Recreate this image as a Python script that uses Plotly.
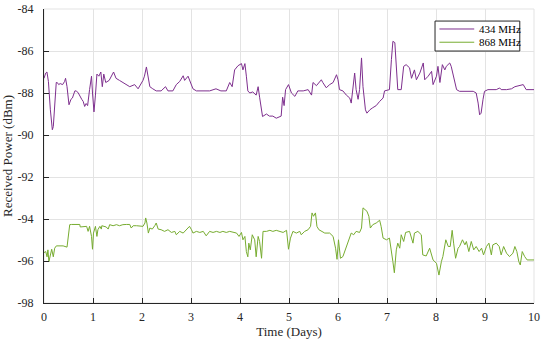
import plotly.graph_objects as go

# ---- data ----
days_434 = [0.00, 0.035, 0.06, 0.09, 0.13, 0.17, 0.19, 0.22, 0.25, 0.27, 0.30, 0.33, 0.38, 0.42, 0.44,
            0.47, 0.51, 0.55, 0.58, 0.63, 0.66, 0.70, 0.73, 0.77, 0.80, 0.83, 0.86, 0.89, 0.93, 0.97,
            0.99, 1.02, 1.05, 1.08, 1.12, 1.16, 1.19, 1.22, 1.26, 1.33, 1.42, 1.47, 1.54, 1.61, 1.68,
            1.75, 1.85, 1.92, 2.02, 2.05, 2.09, 2.12, 2.16, 2.22, 2.29, 2.39, 2.48, 2.53, 2.63, 2.70,
            2.77, 2.84, 2.87, 2.94, 3.01, 3.04, 3.11, 3.24, 3.38, 3.51, 3.61, 3.72, 3.79, 3.84, 3.89,
            3.96, 4.03, 4.06, 4.10, 4.13, 4.16, 4.20, 4.26, 4.33, 4.37, 4.40, 4.46, 4.54, 4.60, 4.67,
            4.74, 4.84, 4.87, 4.90, 4.93, 4.99, 5.05, 5.12, 5.18, 5.29, 5.39, 5.46, 5.49, 5.56, 5.66,
            5.69, 5.76, 5.83, 5.90, 5.97, 6.00, 6.03, 6.10, 6.17, 6.24, 6.27, 6.31, 6.34, 6.37, 6.41,
            6.44, 6.48, 6.51, 6.56, 6.59, 6.65, 6.71, 6.78, 6.85, 6.92, 6.95, 7.02, 7.05, 7.09, 7.12,
            7.16, 7.19, 7.22, 7.29, 7.34, 7.39, 7.46, 7.50, 7.56, 7.60, 7.67, 7.74, 7.77, 7.84, 7.91,
            7.94, 8.01, 8.04, 8.08, 8.13, 8.18, 8.21, 8.25, 8.28, 8.31, 8.38, 8.42, 8.48, 8.62, 8.76,
            8.82, 8.86, 8.89, 8.92, 8.96, 8.99, 9.06, 9.23, 9.30, 9.33, 9.44, 9.54, 9.61, 9.67, 9.74,
            9.78, 9.84, 10.0]
power_434 = [-87.3, -87.05, -87.0, -87.45, -88.8, -89.75, -89.6, -88.5, -87.5, -87.5, -87.6, -87.55, -87.6, -87.45, -87.3,
             -87.7, -88.56, -88.3, -88.24, -87.9, -87.9, -88.0, -88.16, -88.3, -88.4, -88.64, -88.5, -88.6, -87.84, -87.2,
             -88.0, -88.9, -88.1, -87.1, -87.2, -87.0, -87.7, -87.1, -87.5, -87.4, -87.0, -87.3, -87.4, -87.5, -87.6,
             -87.7, -87.6, -87.8, -87.4, -87.2, -86.76, -87.2, -87.7, -87.8, -87.9, -87.9, -87.7, -87.9, -87.9, -87.6,
             -87.45, -87.18, -87.4, -87.2, -87.7, -87.8, -87.9, -87.9, -87.9, -87.8, -87.9, -87.9, -87.5, -87.7, -86.9,
             -86.7, -86.6, -86.9, -86.6, -87.2, -87.9, -88.0, -87.95, -88.1, -87.7, -88.2, -89.12, -89.0, -89.1, -89.1,
             -89.2, -89.1, -88.2, -88.6, -87.84, -87.6, -88.0, -88.16, -87.9, -87.9, -87.84, -88.1, -87.5, -87.65, -87.37,
             -87.5, -87.75, -87.6, -87.5, -87.13, -87.37, -87.84, -87.9, -88.1, -88.24, -88.48, -87.5, -87.05, -87.84, -88.3,
             -87.84, -86.33, -87.7, -88.8, -88.96, -88.8, -88.7, -88.6, -88.4, -88.24, -87.9, -87.84, -87.84, -86.41, -85.54,
             -85.6, -86.9, -87.84, -87.84, -86.73, -86.65, -86.8, -87.3, -86.9, -87.37, -87.05, -86.57, -87.37, -87.2, -86.97,
             -87.6, -87.2, -86.73, -87.5, -86.65, -86.9, -86.73, -86.65, -86.57, -86.73, -87.37, -87.84, -87.92, -87.92, -87.92,
             -88.0, -88.48, -89.04, -88.96, -88.3, -87.92, -87.84, -87.84, -87.76, -87.84, -87.84, -87.8, -87.7, -87.67, -87.64,
             -87.6, -87.84, -87.84]

days_868 = [0.00, 0.035, 0.062, 0.08, 0.10, 0.13, 0.157, 0.19, 0.218, 0.252, 0.32, 0.39, 0.47, 0.525, 0.56,
            0.66, 0.73, 0.74, 0.80, 0.87, 0.90, 0.93, 0.97, 0.99, 1.01, 1.05, 1.08, 1.10, 1.14, 1.17,
            1.18, 1.27, 1.31, 1.34, 1.41, 1.48, 1.54, 1.61, 1.68, 1.75, 1.78, 1.82, 1.89, 1.95, 2.02,
            2.06, 2.075, 2.10, 2.13, 2.16, 2.21, 2.26, 2.29, 2.33, 2.39, 2.46, 2.53, 2.60, 2.67, 2.70,
            2.77, 2.84, 2.91, 2.97, 3.01, 3.04, 3.11, 3.18, 3.25, 3.31, 3.38, 3.45, 3.52, 3.59, 3.65,
            3.72, 3.79, 3.86, 3.93, 3.98, 4.03, 4.06, 4.10, 4.13, 4.16, 4.18, 4.21, 4.25, 4.30, 4.33,
            4.37, 4.40, 4.44, 4.47, 4.54, 4.61, 4.67, 4.74, 4.81, 4.88, 4.95, 4.99, 5.03, 5.08, 5.15,
            5.22, 5.25, 5.32, 5.39, 5.44, 5.47, 5.50, 5.54, 5.57, 5.61, 5.66, 5.73, 5.83, 5.90, 5.95,
            5.98, 6.01, 6.05, 6.10, 6.17, 6.24, 6.27, 6.32, 6.37, 6.44, 6.48, 6.51, 6.54, 6.59, 6.63,
            6.66, 6.71, 6.78, 6.85, 6.88, 6.92, 6.99, 7.05, 7.09, 7.12, 7.15, 7.19, 7.22, 7.26, 7.29,
            7.34, 7.38, 7.46, 7.53, 7.56, 7.63, 7.70, 7.73, 7.80, 7.87, 7.94, 8.01, 8.06, 8.11, 8.14,
            8.20, 8.25, 8.29, 8.33, 8.36, 8.40, 8.45, 8.48, 8.54, 8.59, 8.62, 8.67, 8.72, 8.77, 8.82,
            8.88, 8.93, 8.97, 9.03, 9.08, 9.13, 9.16, 9.23, 9.29, 9.33, 9.38, 9.44, 9.50, 9.57, 9.61,
            9.65, 9.69, 9.72, 9.76, 9.81, 9.86, 10.0]
power_868 = [-95.6, -95.55, -95.8, -95.47, -96.03, -95.63, -95.44, -95.8, -95.39, -95.28, -95.28, -95.28, -95.34, -94.27, -94.26,
             -94.26, -94.26, -94.38, -94.35, -94.35, -94.59, -94.35, -94.83, -95.44, -94.67, -94.35, -94.83, -94.51, -94.35, -94.48,
             -94.32, -94.38, -94.48, -94.27, -94.32, -94.27, -94.32, -94.27, -94.26, -94.26, -94.43, -94.32, -94.32, -94.32, -94.35,
             -94.19, -93.95, -94.19, -94.67, -94.43, -94.48, -94.32, -94.19, -94.48, -94.51, -94.59, -94.51, -94.64, -94.59, -94.75,
             -94.59, -94.67, -94.51, -94.35, -94.51, -94.67, -94.59, -94.64, -94.59, -94.8, -94.59, -94.64, -94.59, -94.64, -94.59,
             -94.64, -94.59, -94.64, -94.67, -94.83, -94.64, -94.99, -94.83, -95.55, -95.8, -95.15, -95.47, -94.75, -94.99, -95.8,
             -94.83, -95.07, -95.87, -94.59, -94.59, -94.54, -94.59, -94.54, -94.59, -94.64, -94.54, -95.44, -94.91, -94.59, -94.67,
             -94.59, -94.75, -94.59, -94.51, -94.35, -93.71, -93.87, -93.71, -94.35, -94.51, -94.59, -94.67, -94.67, -94.83, -95.39,
             -95.92, -94.99, -95.87, -95.79, -95.31, -94.91, -94.67, -94.75, -94.59, -94.64, -94.43, -93.47, -93.55, -93.63, -93.87,
             -94.43, -94.27, -94.19, -94.06, -94.35, -94.91, -94.99, -94.91, -95.47, -96.03, -96.56, -95.47, -95.15, -95.39, -94.75,
             -95.07, -94.64, -94.59, -95.15, -94.67, -94.59, -94.75, -95.71, -95.76, -95.39, -95.95, -96.11, -96.67, -96.03, -95.79,
             -94.99, -95.31, -95.31, -94.54, -95.15, -95.87, -95.39, -95.31, -94.99, -95.23, -95.07, -95.55, -95.07, -95.47, -95.31,
             -95.55, -95.39, -95.71, -95.31, -95.15, -95.71, -95.23, -95.15, -95.31, -95.71, -95.31, -95.63, -95.79, -95.63, -95.31,
             -95.55, -96.03, -96.19, -95.55, -95.79, -95.95, -95.95]

x_ticks = [0, 1, 2, 3, 4, 5, 6, 7, 8, 9, 10]
y_ticks = [-98, -96, -94, -92, -90, -88, -86, -84]
y_tick_labels = ["-98", "-96", "-94", "-92", "-90", "-88", "-86", "-84"]
series_names = ["434 MHz", "868 MHz"]
series_colors = ["#7E2F8E", "#77AC30"]

FONT = "Liberation Serif, Times New Roman, serif"
AX = "#262626"
GRID = "#e3e3e3"

fig = go.Figure()
for xs, ys, name, color in [(days_434, power_434, series_names[0], series_colors[0]),
                            (days_868, power_868, series_names[1], series_colors[1])]:
    fig.add_trace(go.Scatter(x=xs, y=ys, mode="lines", name=name,
                             line=dict(color=color, width=1), showlegend=False))

# compact MATLAB-style legend box (drawn in paper coordinates)
legend_shapes = [dict(type="rect", xref="paper", yref="paper", x0=0.798, x1=0.971, y0=0.857, y1=0.959,
                      line=dict(color=AX, width=1), fillcolor="white", layer="above")]
legend_annots = []
for i, (name, color) in enumerate(zip(series_names, series_colors)):
    yy = 0.932 - i * 0.045
    legend_shapes.append(dict(type="line", xref="paper", yref="paper", x0=0.807, x1=0.878, y0=yy, y1=yy,
                              line=dict(color=color, width=1), layer="above"))
    legend_annots.append(dict(xref="paper", yref="paper", x=0.884, y=yy, text=name, showarrow=False,
                              xanchor="left", yanchor="middle",
                              font=dict(family=FONT, size=11, color="black")))

fig.update_layout(
    width=550, height=346,
    margin=dict(l=44, r=16, t=9, b=43, autoexpand=False),
    paper_bgcolor="white", plot_bgcolor="white",
    font=dict(family=FONT, size=12, color=AX),
    showlegend=False,
    shapes=[dict(type="rect", xref="paper", yref="paper", x0=0, y0=0, x1=1, y1=1,
                 line=dict(color=GRID, width=1), layer="below")] + legend_shapes,
    annotations=legend_annots,
)
fig.update_xaxes(range=[0, 10], tickvals=x_ticks, ticks="inside", ticklen=5, tickcolor=AX,
                 showline=True, linecolor=AX, linewidth=1, showgrid=True, gridcolor=GRID,
                 zeroline=False, automargin=False, ticklabelstandoff=3, ticklabeloverflow="allow",
                 tickfont=dict(family=FONT, size=12, color=AX),
                 title=dict(text="Time (Days)", font=dict(family=FONT, size=13, color=AX), standoff=2))
fig.update_yaxes(range=[-98, -84], tickvals=y_ticks, ticktext=y_tick_labels, ticks="inside", ticklen=5,
                 tickcolor=AX, showline=True, linecolor=AX, linewidth=1, showgrid=True, gridcolor=GRID,
                 zeroline=False, automargin=False, ticklabelstandoff=7, ticklabeloverflow="allow",
                 tickfont=dict(family=FONT, size=12, color=AX),
                 title=dict(text="Received Power (dBm)", font=dict(family=FONT, size=13, color=AX), standoff=3))

fig.write_html("out.html", config={"displayModeBar": False},
               post_script="document.body.style.margin='0px';")
